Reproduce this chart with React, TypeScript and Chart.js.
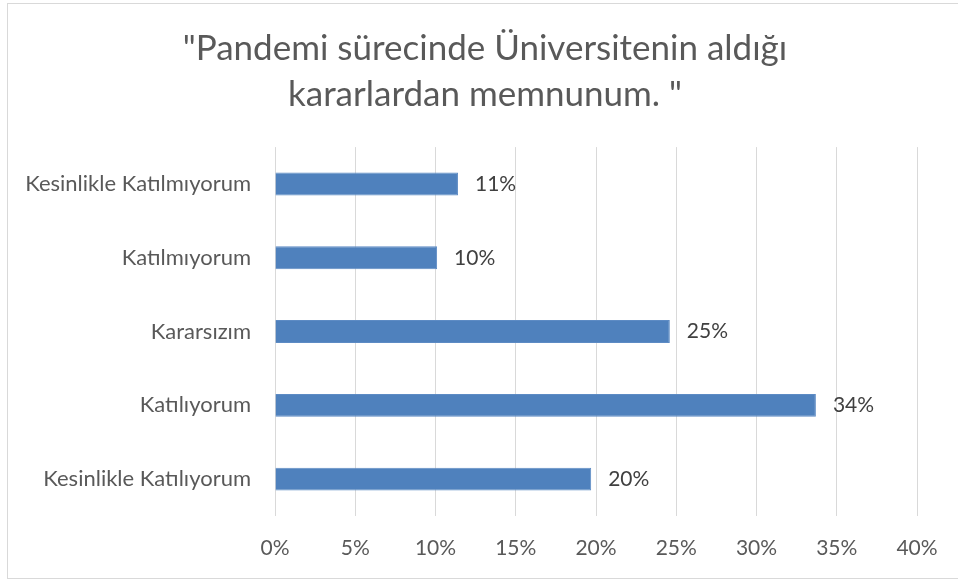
import React, { useEffect, useRef } from "react";
import { Chart, registerables } from "chart.js";

Chart.register(...registerables);

const titleLines = ['"Pandemi sürecinde Üniversitenin aldığı', 'kararlardan memnunum. "'];
const categories = [
  "Kesinlikle Katılmıyorum",
  "Katılmıyorum",
  "Kararsızım",
  "Katılıyorum",
  "Kesinlikle Katılıyorum",
];
const values = [11.4, 10.1, 24.6, 33.7, 19.7];
const axisMin = 0;
const axisMax = 40;
const axisStep = 5;

const FONT = "Lato, 'Open Sans', 'Liberation Sans', sans-serif";

const dataLabelPlugin = {
  id: "dataLabels",
  afterDatasetsDraw(chart: any) {
    const ctx = chart.ctx;
    const meta = chart.getDatasetMeta(0);
    ctx.save();
    ctx.font = `21px ${FONT}`;
    ctx.fillStyle = "#404040";
    ctx.textAlign = "left";
    ctx.textBaseline = "middle";
    meta.data.forEach((el: any, i: number) => {
      const v = chart.data.datasets[0].data[i];
      ctx.fillText(Math.round(v) + "%", el.x + 17, el.y);
    });
    ctx.restore();
  },
};

// let category labels extend into the layout padding instead of being clipped
const noLabelClipPlugin = {
  id: "noLabelClip",
  beforeDraw(chart: any) {
    const y = chart.scales.y;
    if (y && typeof y._computeLabelArea === "function") {
      y._computeLabelArea = () => undefined;
    }
  },
};

export default function App() {
  const ref = useRef<HTMLCanvasElement>(null);
  useEffect(() => {
    if (!ref.current) return;
    const chart = new Chart(ref.current, {
      type: "bar",
      data: {
        labels: categories,
        datasets: [
          {
            data: values,
            backgroundColor: "#4f81bd",
            borderColor: "#5d8bc4",
            borderWidth: 1,
            barPercentage: 0.31,
            categoryPercentage: 1,
          },
        ],
      },
      options: {
        indexAxis: "y",
        animation: false,
        responsive: false,
        maintainAspectRatio: false,
        layout: { padding: { left: 53, right: 41, top: 0, bottom: 0 } },
        plugins: {
          legend: { display: false },
          tooltip: { enabled: false },
          title: {
            display: true,
            text: titleLines,
            color: "#595959",
            font: { family: FONT, size: 35, weight: "normal", lineHeight: 1.33 },
            padding: { top: 25, bottom: 29 },
          },
        },
        scales: {
          x: {
            min: axisMin,
            max: axisMax,
            ticks: {
              stepSize: axisStep,
              callback: (v: any) => v + "%",
              color: "#595959",
              font: { family: FONT, size: 21 },
              padding: 20,
            },
            grid: { color: "#d9d9d9", lineWidth: 1, drawTicks: false },
            border: { display: false },
            afterFit: (s: any) => {
              s.height = 65;
            },
          },
          y: {
            ticks: {
              color: "#595959",
              font: { family: FONT, size: 22 },
              padding: 24,
            },
            grid: { display: false, drawTicks: false },
            border: { display: false },
            afterFit: (s: any) => {
              s.width = 222;
            },
          },
        },
      },
      plugins: [noLabelClipPlugin, dataLabelPlugin],
    });
    return () => chart.destroy();
  }, []);
  return (
    <div style={{ position: "fixed", left: 0, top: 0, width: 958, height: 581, background: "#fff", overflow: "hidden" }}>
      <canvas ref={ref} width={958} height={581} style={{ display: "block", width: 958, height: 581 }} />
      <div
        style={{
          position: "absolute",
          left: 7,
          top: 3,
          width: 960,
          height: 576,
          border: "1px solid #d9d9d9",
          boxSizing: "border-box",
          pointerEvents: "none",
        }}
      />
    </div>
  );
}
